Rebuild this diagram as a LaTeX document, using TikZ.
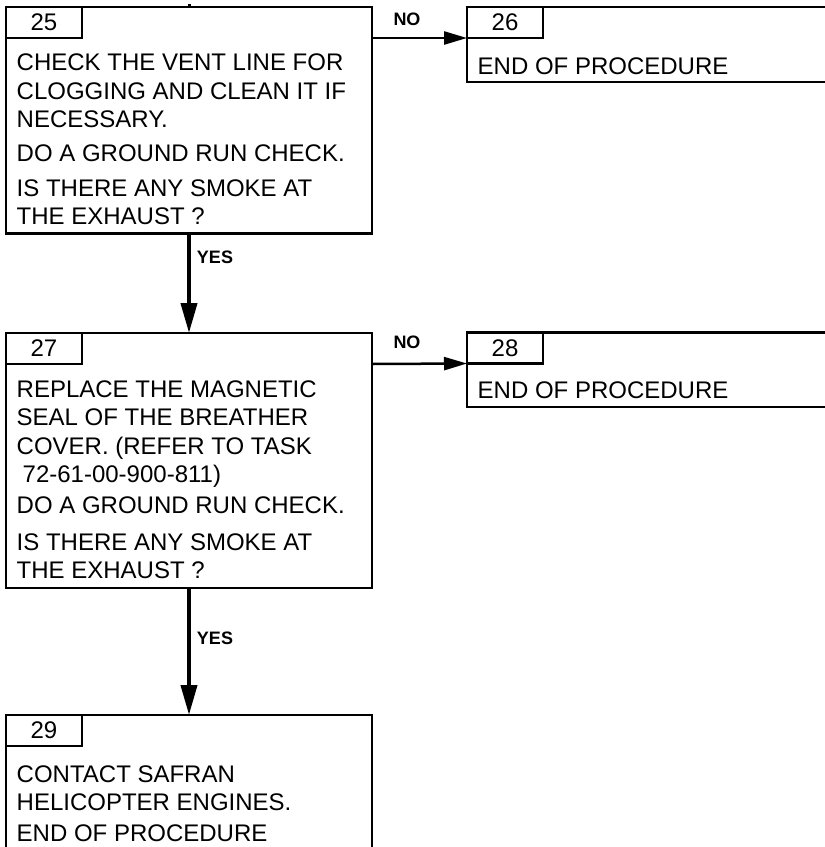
\documentclass[tikz,border=0pt]{standalone}
\usepackage{fontspec}
\setmainfont{Liberation Sans}
\usetikzlibrary{arrows.meta}
\begin{document}
\begin{tikzpicture}[x=1pt,y=-1pt,
  box/.style={draw=black, line width=2.5pt, inner sep=0pt, outer sep=0pt, anchor=north west, rectangle},
  tabbox/.style={draw=black, fill=white, line width=2.5pt, inner sep=0pt, outer sep=0pt, anchor=north west, rectangle, minimum width=76pt, minimum height=31pt},
  tabnum/.style={inner sep=0pt, font=\fontsize{24}{28}\selectfont},
  txt/.style={inner sep=0pt, anchor=base west, font=\fontsize{24}{28}\selectfont},
  lbl/.style={inner sep=0pt, font=\bfseries\fontsize{18}{20}\selectfont},
  harrow/.style={draw=black, line width=2.5pt, -{Triangle[length=23pt,width=13pt]}},
  varrow/.style={draw=black, line width=4pt, -{Triangle[length=30pt,width=16pt]}},
]
\useasboundingbox (0,0) rectangle (825,847);
\clip (0,0) rectangle (825,847);

% boxes
\node[box, minimum width=366pt, minimum height=226.5pt] (b25) at (6,7) {};
\node[box, minimum width=368pt, minimum height=75pt] (b26) at (467,7) {};
\node[box, minimum width=366pt, minimum height=255pt] (b27) at (6,333) {};
\node[box, minimum width=368pt, minimum height=74.5pt] (b28) at (467,332.5) {};
\node[box, minimum width=366pt, minimum height=160pt] (b29) at (6,715) {};

% tabs
\node[tabbox] (n25) at (6,7) {};
\node[tabnum] (l25) at (n25.center) {25};
\node[tabbox] (n26) at (467,7) {};
\node[tabnum] (l26) at (n26.center) {26};
\node[tabbox] (n27) at (6,333) {};
\node[tabnum] (l27) at (n27.center) {27};
\node[tabbox] (n28) at (467,332.5) {};
\node[tabnum] (l28) at (n28.center) {28};
\node[tabbox] (n29) at (6,715) {};
\node[tabnum] (l29) at (n29.center) {29};

% box 25 text
\node[txt] (t25a) at (16.5,70.5) {CHECK THE VENT LINE FOR};
\node[txt] (t25b) at (16.5,99) {CLOGGING AND CLEAN IT IF};
\node[txt] (t25c) at (16.5,127.5) {NECESSARY.};
\node[txt] (t25d) at (16.5,161.5) {DO A GROUND RUN CHECK.};
\node[txt] (t25e) at (16.5,196.5) {IS THERE ANY SMOKE AT};
\node[txt] (t25f) at (16.5,224) {THE EXHAUST ?};

% box 26 text
\node[txt] (t26a) at (477.5,74) {END OF PROCEDURE};

% box 27 text
\node[txt] (t27a) at (16.5,397.5) {REPLACE THE MAGNETIC};
\node[txt] (t27b) at (16.5,425.5) {SEAL OF THE BREATHER};
\node[txt] (t27c) at (16.5,454) {COVER. (REFER TO TASK};
\node[txt] (t27d) at (22.5,482) {72-61-00-900-811)};
\node[txt] (t27e) at (16.5,513.5) {DO A GROUND RUN CHECK.};
\node[txt] (t27f) at (16.5,550.5) {IS THERE ANY SMOKE AT};
\node[txt] (t27g) at (16.5,578.5) {THE EXHAUST ?};

% box 28 text
\node[txt] (t28a) at (477.5,398.5) {END OF PROCEDURE};

% box 29 text
\node[txt] (t29a) at (16.5,782) {CONTACT SAFRAN};
\node[txt] (t29b) at (16.5,810) {HELICOPTER ENGINES.};
\node[txt] (t29c) at (16.5,841) {END OF PROCEDURE};

% incoming stub
\coordinate (in25) at (189,4);
\draw[line width=3pt] (in25) -- (b25.north);

% connectors
\draw[harrow] (n25.south -| b25.east) -- (n26.south west);
\draw[varrow] (b25.south) -- (b27.north);
\draw[harrow] (n27.south -| b27.east) -- (n28.south west);
\draw[varrow] (b27.south) -- (b29.north);

% labels
\node[lbl] (no1) at (407,19) {NO};
\node[lbl] (yes1) at (215,257) {YES};
\node[lbl] (no2) at (407,342) {NO};
\node[lbl] (yes2) at (215,638) {YES};
\end{tikzpicture}
\end{document}
